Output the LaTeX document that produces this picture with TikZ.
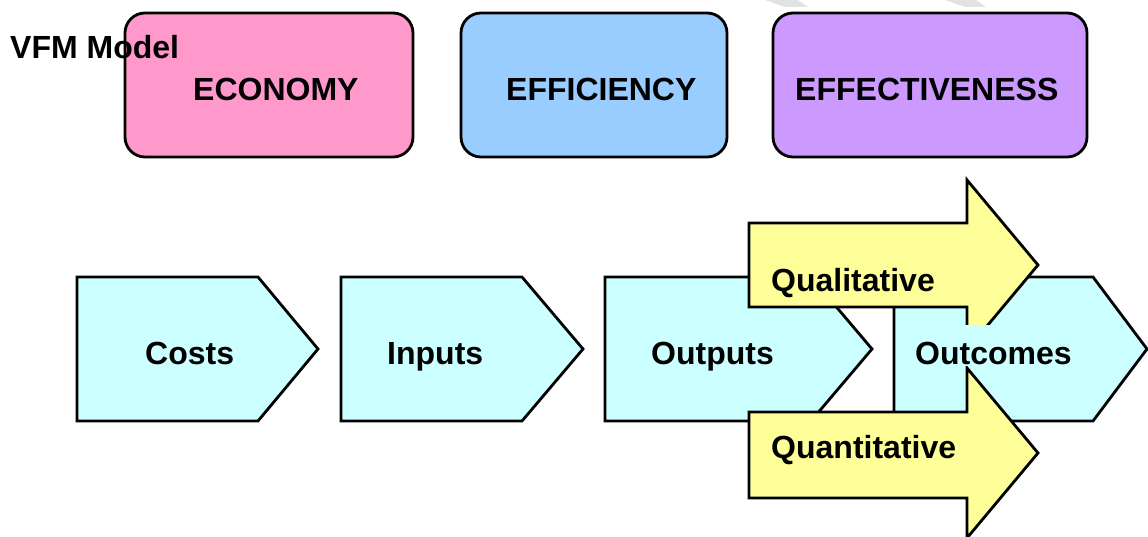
\documentclass[tikz,border=0pt]{standalone}
\usepackage{fontspec}
\setmainfont{Liberation Sans}
\begin{document}
\begin{tikzpicture}[x=1pt,y=-1pt,
  shapeline/.style={draw=black,line width=2.8pt,line join=miter},
  topbox/.style={shapeline,rounded corners=20pt},
  chev/.style={shapeline,fill=chevfill},
  yarrow/.style={shapeline,fill=arrowfill},
  lbl/.style={anchor=base west,inner sep=0pt,font=\bfseries\fontsize{32}{32}\selectfont},
  wm/.style={fill=wmgrey,draw=none}]
\definecolor{econfill}{HTML}{FF99CC}
\definecolor{efffill}{HTML}{99CCFF}
\definecolor{effvfill}{HTML}{CC99FF}
\definecolor{chevfill}{HTML}{CCFFFF}
\definecolor{arrowfill}{HTML}{FFFF99}
\definecolor{wmgrey}{HTML}{E2E2E2}
\useasboundingbox (0,0) rectangle (1148,537);
\clip (0,0) rectangle (1148,537);
% watermark fragments
\fill[wm] (765,0) -- (798,0) -- (808,7) -- (785,7) -- cycle;
\fill[wm] (945,0) -- (976,0) -- (986,7) -- (965,7) -- cycle;
% top boxes
\draw[topbox,fill=econfill] (125,13) rectangle (413,157);
\draw[topbox,fill=efffill] (461,13) rectangle (727,157);
\draw[topbox,fill=effvfill] (773,13) rectangle (1087,157);
\node[lbl] (economy) at (193,101) {ECONOMY};
\node[lbl] (efficiency) at (506,101) {EFFICIENCY};
\node[lbl] (effectiveness) at (795,101) {EFFECTIVENESS};
\node[lbl] (title) at (10,59) {VFM Model};
% chevrons
\draw[chev] (77,277) -- (258,277) -- (318,349) -- (258,421) -- (77,421) -- cycle;
\draw[chev] (341,277) -- (522,277) -- (583,349) -- (522,421) -- (341,421) -- cycle;
\draw[chev] (605,277) -- (811,277) -- (872,349) -- (811,421) -- (605,421) -- cycle;
\draw[chev] (894,277) -- (1093,277) -- (1147,349) -- (1093,421) -- (894,421) -- cycle;
% yellow arrows
\draw[yarrow] (749,223) -- (967,223) -- (967,180) -- (1038,265) -- (967,350) -- (967,307) -- (749,307) -- cycle;
\draw[yarrow] (749,412) -- (967,412) -- (967,368) -- (1038,453) -- (967,538) -- (967,498) -- (749,498) -- cycle;
% outcomes text background
\fill[chevfill] (898,325) rectangle (1088,366);
% labels
\node[lbl] (costs) at (145,364) {Costs};
\node[lbl] (inputs) at (387,364) {Inputs};
\node[lbl] (outputs) at (651,364) {Outputs};
\node[lbl] (outcomes) at (915,364) {Outcomes};
\node[lbl] (qualitative) at (771,291) {Qualitative};
\node[lbl] (quantitative) at (771,458) {Quantitative};
\end{tikzpicture}
\end{document}
